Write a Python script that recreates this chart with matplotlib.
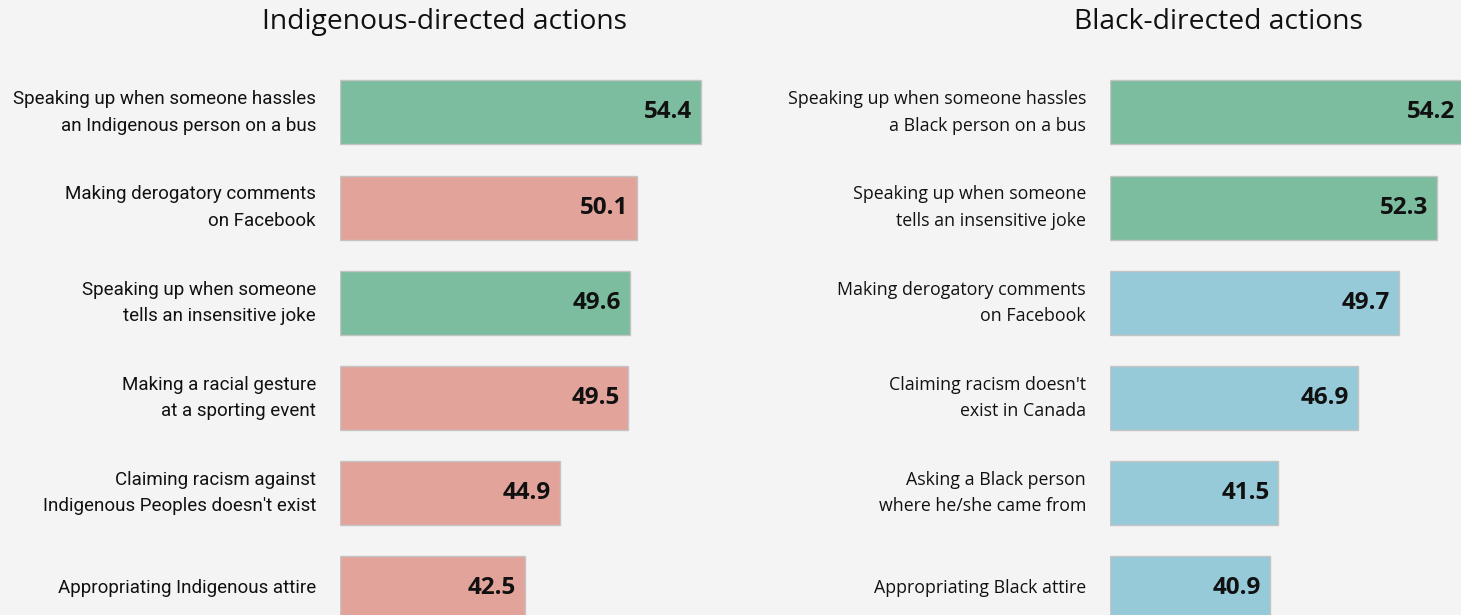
import matplotlib.pyplot as plt

# data
left_labels = [
    "Speaking up when someone hassles\nan Indigenous person on a bus",
    "Making derogatory comments\non Facebook",
    "Speaking up when someone\ntells an insensitive joke",
    "Making a racial gesture\nat a sporting event",
    "Claiming racism against\nIndigenous Peoples doesn't exist",
    "Appropriating Indigenous attire",
]
left_values = [54.4, 50.1, 49.6, 49.5, 44.9, 42.5]
left_kind = ["pos", "neg", "pos", "neg", "neg", "neg"]

right_labels = [
    "Speaking up when someone hassles\na Black person on a bus",
    "Speaking up when someone\ntells an insensitive joke",
    "Making derogatory comments\non Facebook",
    "Claiming racism doesn't\nexist in Canada",
    "Asking a Black person\nwhere he/she came from",
    "Appropriating Black attire",
]
right_values = [54.2, 52.3, 49.7, 46.9, 41.5, 40.9]
right_kind = ["pos", "pos", "neg_b", "neg_b", "neg_b", "neg_b"]

colors = {"pos": "#7bbd9e", "neg": "#e2a39b", "neg_b": "#96cad8"}
bg = "#f4f4f4"

fig = plt.figure(figsize=(14.61, 6.15), dpi=100, facecolor=bg)


def panel(rect, xmax, labels, values, kinds, title, title_x, label_font, value_font):
    ax = fig.add_axes(rect)
    ax.set_facecolor(bg)
    ys = list(range(len(values)))
    ax.barh(ys, [v - 30 for v in values], left=30, height=0.672,
            color=[colors[k] for k in kinds], edgecolor="#c4c4c4", linewidth=1)
    ax.set_xlim(30, xmax)
    ax.set_ylim(5.28, -0.55)
    ax.axis("off")
    for y, lab, v in zip(ys, labels, values):
        ax.annotate(lab, xy=(0, y), xycoords=("axes fraction", "data"),
                    xytext=(-24, 0), textcoords="offset pixels",
                    ha="right", va="center", fontsize=label_font[1],
                    family=label_font[0], linespacing=1.6, color="#111111")
        ax.annotate(f"{v:.1f}", xy=(v, y), xytext=(-9, 0),
                    textcoords="offset pixels", ha="right", va="center",
                    fontsize=value_font[1], family=value_font[0],
                    fontweight="bold", color="#111111", annotation_clip=False)
    fig.text(title_x, 0.964, title, ha="center", va="center", fontsize=20.3,
             family=["Open Sans", "DejaVu Sans"], color="#111111")
    return ax


panel([340 / 1461, 0, 380 / 1461, 0.9024], 30 + 380 / 14.79,
      left_labels, left_values, left_kind,
      "Indigenous-directed actions", 444 / 1461,
      (["Roboto", "DejaVu Sans"], 13.5),
      (["Open Sans", "DejaVu Sans"], 17.5))
panel([1110 / 1461, 0, 351 / 1461, 0.9024], 30 + 351 / 14.65,
      right_labels, right_values, right_kind,
      "Black-directed actions", 1218 / 1461,
      (["Open Sans", "DejaVu Sans"], 12.8),
      (["Open Sans", "DejaVu Sans"], 17.5))

fig.savefig("out.png", dpi=100, facecolor=bg)
